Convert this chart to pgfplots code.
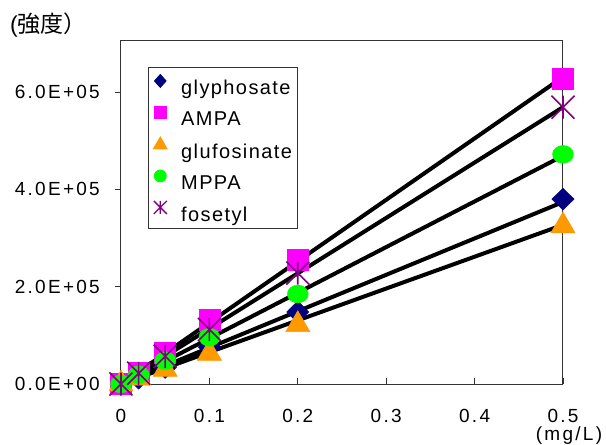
\documentclass[border=0pt]{standalone}
\usepackage{fontspec}
\setmainfont{Liberation Sans}[LetterSpace=7]
\newfontfamily\tickfont{Liberation Sans}[LetterSpace=12]
\newfontfamily\cjk{Noto Sans CJK JP}
\usepackage{pgfplots}
\pgfplotsset{compat=1.18}

\definecolor{cNavy}{HTML}{000080}
\definecolor{cMag}{HTML}{FF00FF}
\definecolor{cOrange}{HTML}{FF9900}
\definecolor{cGreen}{HTML}{00FF00}
\definecolor{cPurple}{HTML}{800080}

% Excel-style star: an X with a vertical bar
\pgfdeclareplotmark{xstar}{%
  \pgfpathmoveto{\pgfqpoint{-\pgfplotmarksize}{-\pgfplotmarksize}}%
  \pgfpathlineto{\pgfqpoint{\pgfplotmarksize}{\pgfplotmarksize}}%
  \pgfpathmoveto{\pgfqpoint{-\pgfplotmarksize}{\pgfplotmarksize}}%
  \pgfpathlineto{\pgfqpoint{\pgfplotmarksize}{-\pgfplotmarksize}}%
  \pgfpathmoveto{\pgfqpoint{0pt}{-\pgfplotmarksize}}%
  \pgfpathlineto{\pgfqpoint{0pt}{\pgfplotmarksize}}%
  \pgfusepathqstroke}

\newcommand\lblfont{\fontsize{20}{23}\selectfont}
\newcommand\tkfont{\tickfont\fontsize{19}{22}\selectfont}

\begin{document}
\begin{tikzpicture}
\useasboundingbox (0,0) rectangle (606pt,445pt);
\begin{axis}[
  at={(121pt,61pt)}, anchor=south west,
  width=442pt, height=343pt, scale only axis,
  xmin=0, xmax=0.5, ymin=0, ymax=705000,
  xtick={0,0.1,0.2,0.3,0.4,0.5},
  xticklabels={0,0.1,0.2,0.3,0.4,0.5},
  ytick={0,200000,400000,600000},
  yticklabels={0.0E+00,2.0E+05,4.0E+05,6.0E+05},
  scaled ticks=false,
  xtick pos=bottom, ytick pos=left,
  xtick align=inside, ytick align=outside,
  major tick length=6pt,
  tick style={black!80, line width=0.8pt},
  axis line style={black!80, line width=1pt},
  ticklabel style={font=\tkfont},
  xticklabel style={anchor=north, inner sep=0pt, yshift=-25pt},
  yticklabel style={anchor=east, inner sep=0pt, xshift=-15pt},
  clip=false,
  legend style={at={(rel axis cs:0.061,0.924)}, anchor=north west,
    draw=black!80, line width=0.8pt, font=\lblfont,
    inner xsep=5pt, inner ysep=7pt,
    nodes={inner sep=0pt, text height=18pt, text depth=0pt},
    row sep=11pt, column sep=14pt},
  legend cell align=left,
  legend image code/.code={\draw[#1] plot coordinates {(0pt,5pt)};},
]
% data series
\addplot[only marks, mark=diamond*, mark size=11pt, mark options={xscale=1.35, fill=cNavy, draw=cNavy}, forget plot]
  coordinates {(0,0) (0.02,12000) (0.05,34000) (0.1,76000) (0.2,148000) (0.5,380000)};
\addplot[only marks, mark=square*, mark size=10.5pt, mark options={fill=cMag, draw=cMag}, forget plot]
  coordinates {(0,0) (0.02,24000) (0.05,64000) (0.1,132000) (0.2,256000) (0.5,628000)};
\addplot[only marks, mark=triangle*, mark size=14pt, mark options={fill=cOrange, draw=cOrange}, forget plot]
  coordinates {(0,0) (0.02,12000) (0.05,30000) (0.1,63000) (0.2,122000) (0.5,325000)};
\addplot[only marks, mark=*, mark size=10.5pt, mark options={yscale=0.85, fill=cGreen, draw=cGreen}, forget plot]
  coordinates {(0,0) (0.02,19000) (0.05,48000) (0.1,96000) (0.2,185000) (0.5,472000)};
\addplot[only marks, mark=xstar, mark size=11.5pt, mark options={draw=cPurple, line width=1.6pt}, forget plot]
  coordinates {(0,0) (0.02,22000) (0.05,57000) (0.1,112000) (0.2,228000) (0.5,569000)};
% linear trend lines
\addplot[black, line width=4pt, forget plot] coordinates {(0,0) (0.5,374000)};
\addplot[black, line width=4pt, forget plot] coordinates {(0,0) (0.5,631000)};
\addplot[black, line width=4pt, forget plot] coordinates {(0,0) (0.5,327000)};
\addplot[black, line width=4pt, forget plot] coordinates {(0,0) (0.5,469000)};
\addplot[black, line width=4pt, forget plot] coordinates {(0,0) (0.5,569000)};
% legend
\addlegendimage{mark=diamond*, mark size=6.5pt, mark options={xscale=1.2, fill=cNavy, draw=cNavy}}
\addlegendentry{glyphosate}
\addlegendimage{mark=square*, mark size=6pt, mark options={fill=cMag, draw=cMag}}
\addlegendentry{AMPA}
\addlegendimage{mark=triangle*, mark size=8pt, mark options={fill=cOrange, draw=cOrange}}
\addlegendentry{glufosinate}
\addlegendimage{mark=*, mark size=6pt, mark options={fill=cGreen, draw=cGreen}}
\addlegendentry{MPPA}
\addlegendimage{mark=xstar, mark size=6.5pt, mark options={draw=cPurple, line width=1.4pt}}
\addlegendentry{fosetyl}
\end{axis}
\node[anchor=west, inner sep=0pt, font=\fontsize{23}{26}\selectfont] at (10pt,420pt) {(\cjk 強度）};
\node[anchor=center, inner sep=0pt, font=\tkfont] at (569pt,9pt) {(mg/L)};
\end{tikzpicture}
\end{document}
